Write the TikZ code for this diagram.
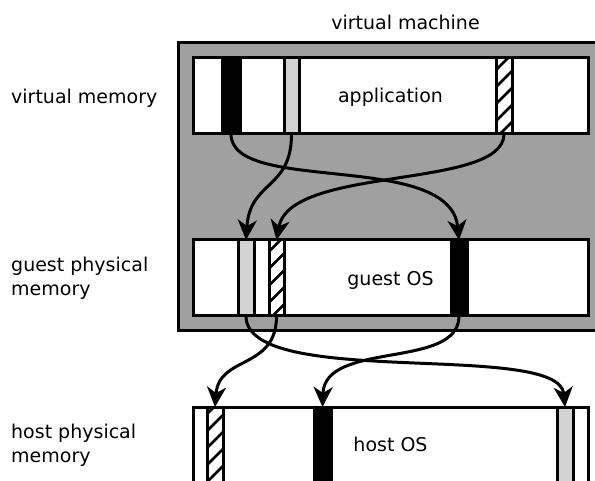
\documentclass[tikz,border=0pt]{standalone}
\usepackage{fontspec}
\setmainfont{DejaVu Sans}
\usetikzlibrary{arrows.meta}
\definecolor{vmgray}{RGB}{160,160,160}
\definecolor{pagegray}{RGB}{211,211,211}
\tikzset{
  lbl/.style={inner sep=0pt, align=left, font=\fontsize{19}{24}\selectfont},
  vmbox/.style={draw, line width=3pt, fill=vmgray},
  bar/.style={draw, line width=3pt, fill=white, inner sep=0pt, outer sep=0pt, minimum width=395pt},
  pg/.style={draw, line width=3pt, inner sep=0pt, outer sep=0pt},
  pgblack/.style={pg, fill=black},
  pglight/.style={pg, fill=pagegray},
  pghatch/.style={pg, fill=white, path picture={
      \foreach \k in {-6,...,6}
        \draw[line width=2.5pt] ([shift={(-12pt,\k*17pt-12pt)}]path picture bounding box.center) -- ++(24pt,24pt);
    }},
  maparrow/.style={line width=3pt, -{Stealth[length=20pt, width=19pt, inset=6pt]}}
}
\begin{document}
\begin{tikzpicture}[x=1pt, y=-1pt]
\useasboundingbox (0,0) rectangle (595,481);
\clip (0,0) rectangle (595,481);

% virtual machine frame
\draw[vmbox] (178,43) rectangle (610,331);
\node[lbl, anchor=base] (vmlabel) at (405.5,30) {virtual machine};

% level labels
\node[lbl, anchor=base west] (lv) at (11,104) {virtual memory};
\node[lbl, anchor=north west] (lg) at (11,256.5) {guest physical\\memory};
\node[lbl, anchor=north west] (lh) at (11,423.5) {host physical\\memory};

% memory bars
\node[bar, minimum height=76pt] (app) at (390.5,96) {};
\node[bar, minimum height=76pt] (guest) at (390.5,278) {};
\node[bar, minimum height=100pt] (host) at (390.5,457) {};

\node[lbl, anchor=base] at (390.5,103) {application};
\node[lbl, anchor=base] at (390.5,286) {guest OS};
\node[lbl, anchor=base] at (390.5,451) {host OS};

% pages in virtual memory
\node[pgblack, minimum width=18pt, minimum height=76pt] (vb) at (231,96) {};
\node[pglight, minimum width=15pt, minimum height=76pt] (vg) at (291.5,96) {};
\node[pghatch, minimum width=16pt, minimum height=76pt] (vh) at (504,96) {};

% pages in guest physical memory
\node[pglight, minimum width=16pt, minimum height=76pt] (gg) at (246,278) {};
\node[pghatch, minimum width=15pt, minimum height=76pt] (gh) at (276.5,278) {};
\node[pgblack, minimum width=16pt, minimum height=76pt] (gb) at (459,278) {};

% pages in host physical memory
\node[pghatch, minimum width=16pt, minimum height=100pt] (hh) at (215,457) {};
\node[pgblack, minimum width=17pt, minimum height=100pt] (hb) at (322.5,457) {};
\node[pglight, minimum width=16pt, minimum height=100pt] (hg) at (565,457) {};

% virtual -> guest physical
\draw[maparrow] (vb.south) .. controls +(0,61) and +(-9,-90) .. (gb.north);
\draw[maparrow] (vg.south) .. controls +(0,56) and +(4,-60) .. (gg.north);
\draw[maparrow] (vh.south) .. controls +(0,56) and +(13.5,-75) .. (gh.north);

% guest physical -> host physical
\draw[maparrow] (gg.south) .. controls +(0,74) and +(-6,-67) .. (hg.north);
\draw[maparrow] (gh.south) .. controls +(0,54) and +(4,-52) .. (hh.north);
\draw[maparrow] (gb.south) .. controls +(0,54) and +(2,-67) .. (hb.north);
\end{tikzpicture}
\end{document}
